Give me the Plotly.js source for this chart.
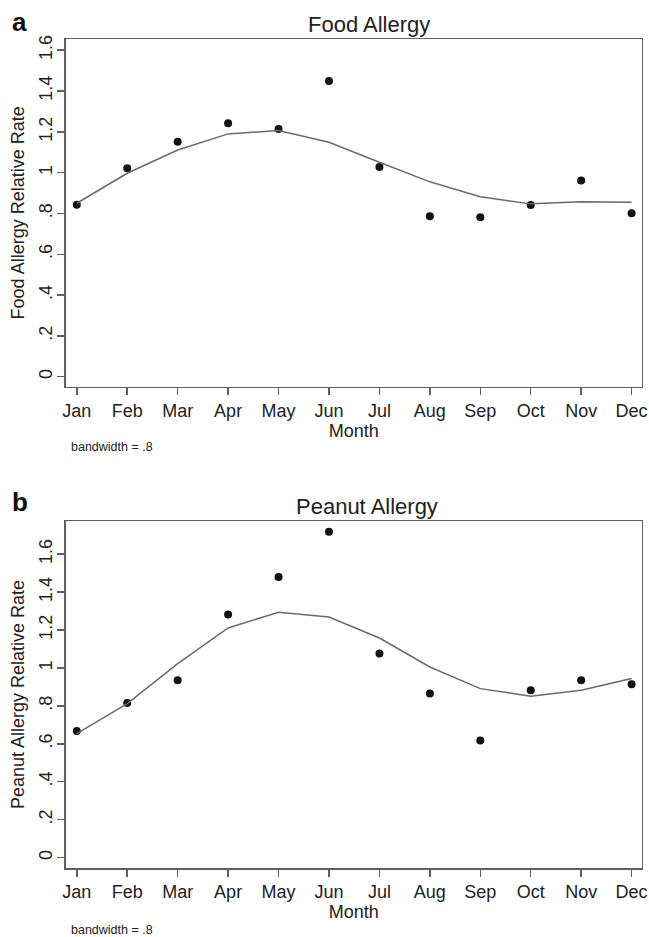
<!DOCTYPE html>
<html>
<head>
<meta charset="utf-8">
<script src="https://cdn.plot.ly/plotly-3.0.1.min.js"></script>
<style>html,body{margin:0;padding:0;background:#fff;}#chart{width:649px;height:937px;}</style>
</head>
<body>
<div id="chart"></div>
<script>
// ---- data ----
const months = ['Jan','Feb','Mar','Apr','May','Jun','Jul','Aug','Sep','Oct','Nov','Dec'];
const foodRate = [0.843, 1.021, 1.152, 1.242, 1.214, 1.449, 1.028, 0.786, 0.781, 0.842, 0.961, 0.801];
const foodSmooth = [0.850, 0.997, 1.111, 1.190, 1.206, 1.149, 1.051, 0.955, 0.882, 0.847, 0.858, 0.855];
const peanutRate = [0.668, 0.815, 0.935, 1.282, 1.480, 1.718, 1.076, 0.865, 0.618, 0.882, 0.935, 0.914];
const peanutSmooth = [0.654, 0.812, 1.023, 1.211, 1.294, 1.269, 1.158, 1.005, 0.891, 0.851, 0.882, 0.944];
const yTickVals = [0, 0.2, 0.4, 0.6, 0.8, 1, 1.2, 1.4, 1.6];
const yTickText = ['0', '.2', '.4', '.6', '.8', '1', '1.2', '1.4', '1.6'];
const foodGridVals = [0.2, 0.4, 0.6, 0.8, 1, 1.2, 1.4];
const peanutGridVals = [0.2, 0.4, 0.6, 0.8, 1, 1.2, 1.4, 1.6];
const panelTitles = ['Food Allergy', 'Peanut Allergy'];
const yTitles = ['Food Allergy Relative Rate', 'Peanut Allergy Relative Rate'];
const xTitle = 'Month';
const noteText = 'bandwidth = .8';
const panelLetters = ['a', 'b'];

// ---- layout helpers ----
const W = 649, H = 937;
const px = v => v / W;
const py = v => 1 - v / H;
const FONT = 'Liberation Sans, Arial, Helvetica, sans-serif';
const TXT = '#222';
const FRAME = '#5f5f5f';

const topDom = [py(386.7), py(39)];
const botDom = [py(868), py(521)];
const xDom = [px(65.7), px(641.7)];
const xRange = [-0.22, 11.2];
const topRange = [-0.049, 1.655];
const botRange = [-0.055, 1.775];

function xAxis(anchor) {
  return {
    domain: xDom, anchor: anchor, range: xRange, type: 'category',
    showline: true, mirror: true, linecolor: FRAME, linewidth: 1.5,
    ticks: 'outside', ticklen: 7, tickwidth: 1.5, tickcolor: FRAME,
    showgrid: false, zeroline: false,
    tickfont: {family: FONT, size: 18, color: TXT},
    title: {text: xTitle, font: {family: FONT, size: 18, color: TXT}, standoff: 1}
  };
}
function yAxis(anchor, dom, rng, title) {
  return {
    domain: dom, anchor: anchor, range: rng,
    showline: true, mirror: true, linecolor: FRAME, linewidth: 1.5,
    ticks: 'outside', ticklen: 7, tickwidth: 1.5, tickcolor: FRAME,
    tickmode: 'array', tickvals: yTickVals, ticktext: yTickText, tickangle: -90,
    ticklabelstandoff: -2,
    showgrid: false, zeroline: false,
    tickfont: {family: FONT, size: 18, color: TXT},
    title: {text: title, font: {family: FONT, size: 18, color: TXT}, standoff: 6}
  };
}
function gridAxis(over, anchor, rng, vals) {
  return {
    overlaying: over, anchor: anchor, range: rng,
    tickmode: 'array', tickvals: vals, showticklabels: false, ticks: '',
    showgrid: true, gridcolor: '#ebebeb', gridwidth: 1.5, zeroline: false, showline: false
  };
}

const dotStyle = {color: '#111', size: 8};
const lineStyle = {color: '#6a6a6a', width: 1.5};

const traces = [
  {x: months, y: foodRate, xaxis: 'x', yaxis: 'y', type: 'scatter', mode: 'markers', marker: dotStyle},
  {x: months, y: foodSmooth, xaxis: 'x', yaxis: 'y', type: 'scatter', mode: 'lines', line: lineStyle},
  {x: months, y: peanutRate, xaxis: 'x2', yaxis: 'y2', type: 'scatter', mode: 'markers', marker: dotStyle},
  {x: months, y: peanutSmooth, xaxis: 'x2', yaxis: 'y2', type: 'scatter', mode: 'lines', line: lineStyle}
];

const ann = (text, x, y, size, opts) => Object.assign({
  text: text, xref: 'paper', yref: 'paper', x: px(x), y: py(y),
  xanchor: 'center', yanchor: 'middle', showarrow: false,
  font: {family: FONT, size: size, color: TXT}
}, opts || {});

const layout = {
  width: W, height: H,
  margin: {l: 0, r: 0, t: 0, b: 0},
  paper_bgcolor: '#fff', plot_bgcolor: '#fff',
  showlegend: false,
  xaxis: xAxis('y'),
  yaxis: yAxis('x', topDom, topRange, yTitles[0]),
  xaxis2: xAxis('y2'),
  yaxis2: yAxis('x2', botDom, botRange, yTitles[1]),
  yaxis3: gridAxis('y', 'x', topRange, foodGridVals),
  yaxis4: gridAxis('y2', 'x2', botRange, peanutGridVals),
  annotations: [
    ann(panelLetters[0], 19, 22, 26, {font: {family: FONT, size: 26, color: '#111', weight: 'bold'}}),
    ann(panelTitles[0], 369, 24, 22),
    ann(noteText, 112, 447, 12.5),
    ann(panelLetters[1], 20, 502, 26, {font: {family: FONT, size: 26, color: '#111', weight: 'bold'}}),
    ann(panelTitles[1], 367, 506, 22),
    ann(noteText, 112, 930, 12.5)
  ]
};

Plotly.newPlot('chart', traces, layout, {displayModeBar: false, staticPlot: true});
</script>
</body>
</html>
